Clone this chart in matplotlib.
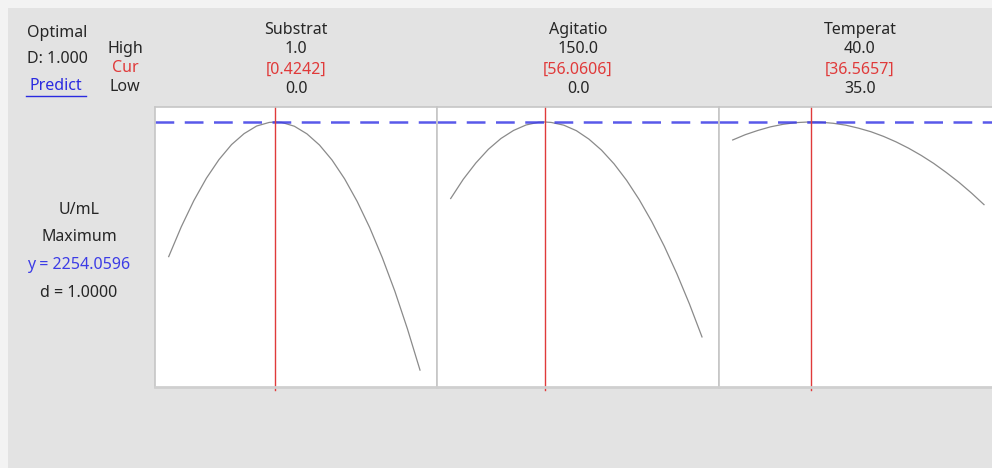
import numpy as np
import matplotlib
matplotlib.use('Agg')
import matplotlib.pyplot as plt
from matplotlib.lines import Line2D
from matplotlib.patches import Rectangle

# Factor settings (high / current / low)
factors = ['Substrat', 'Agitatio', 'Temperat']
highs = [1.0, 150.0, 40.0]
lows = [0.0, 0.0, 35.0]
currents = [0.4242, 56.0606, 36.5657]

# Predicted response (U/mL) along each factor, the other factors held at current
substrat_x = [0.0, 0.05, 0.1, 0.15, 0.2, 0.25, 0.3, 0.35, 0.4, 0.4242, 0.45, 0.5,
	0.55, 0.6, 0.65, 0.7, 0.75, 0.8, 0.85, 0.9, 0.95, 1.0]
substrat_y = [1617, 1758, 1882, 1988, 2076, 2147, 2199, 2235, 2252, 2254.06, 2252, 2234,
	2198, 2145, 2074, 1985, 1878, 1754, 1612, 1453, 1275, 1080]

agitatio_x = [0, 7.5, 15, 22.5, 30, 37.5, 45, 52.5, 56.0606, 60, 67.5, 75,
	82.5, 90, 97.5, 105, 112.5, 120, 127.5, 135, 142.5, 150]
agitatio_y = [1892, 1983, 2060, 2125, 2176, 2214, 2240, 2253, 2254.06, 2252, 2239, 2213,
	2173, 2121, 2056, 1978, 1887, 1783, 1666, 1536, 1393, 1237]

temperat_x = [35.0, 35.25, 35.5, 35.75, 36.0, 36.25, 36.5, 36.5657, 36.75, 37.0, 37.25,
	37.5, 37.75, 38.0, 38.25, 38.5, 38.75, 39.0, 39.25, 39.5, 39.75, 40.0]
temperat_y = [2169, 2194, 2214, 2231, 2243, 2251, 2254, 2254.06, 2253, 2248, 2239,
	2225, 2208, 2186, 2160, 2130, 2096, 2058, 2015, 1969, 1918, 1863]

y_opt = 2254.0596
d_value = 1.0

curves = [(substrat_x, substrat_y), (agitatio_x, agitatio_y), (temperat_x, temperat_y)]

W, H = 992, 468
plt.rcParams['font.family'] = ['Noto Sans', 'DejaVu Sans']
fig = plt.figure(figsize=(W / 100, H / 100), dpi=100, facecolor='#f3f3f3')

def fx(px):
	return px / W

def fy(py):
	return 1 - py / H

# grey window background, kept under the panels
fig.patches.append(Rectangle((fx(8), 0), 1, fy(8), transform=fig.transFigure,
	facecolor='#e3e3e3', edgecolor='none', zorder=-5))

text_col = '#262626'
red = '#e03a3a'
blue = '#3c3ce6'
fs = 11.5

# left header block
fig.text(fx(57), fy(33), 'Optimal', ha='center', va='center', fontsize=fs, color=text_col)
fig.text(fx(57), fy(59), 'D: 1.000', ha='center', va='center', fontsize=fs, color=text_col)
fig.text(fx(56), fy(86), 'Predict', ha='center', va='center', fontsize=fs, color='#2b2be0')
fig.add_artist(Line2D([fx(26), fx(86)], [fy(96), fy(96)], transform=fig.transFigure,
	color='#2b2be0', lw=1))
fig.text(fx(125), fy(49), 'High', ha='center', va='center', fontsize=fs, color=text_col)
fig.text(fx(125), fy(68), 'Cur', ha='center', va='center', fontsize=fs, color=red)
fig.text(fx(125), fy(87), 'Low', ha='center', va='center', fontsize=fs, color=text_col)

# response block
fig.text(fx(79), fy(210), 'U/mL', ha='center', va='center', fontsize=fs, color=text_col)
fig.text(fx(79), fy(237), 'Maximum', ha='center', va='center', fontsize=fs, color=text_col)
fig.text(fx(79), fy(265), 'y = %.4f' % y_opt, ha='center', va='center', fontsize=fs, color=blue)
fig.text(fx(79), fy(293), 'd = %.4f' % d_value, ha='center', va='center', fontsize=fs, color=text_col)

# panels
panel_w = 282
left0 = 155
top, bottom = 107, 387
span = 251.3   # pixels between low and high inside a panel
for i, name in enumerate(factors):
	left = left0 + i * panel_w
	ax = fig.add_axes([fx(left), fy(bottom), fx(panel_w), (bottom - top) / H])
	ax.set_zorder(2)
	ax.set_facecolor('white')
	lo, hi = lows[i], highs[i]
	unit = (hi - lo) / span
	ax.set_xlim(lo - 13.7 * unit, hi + 17.0 * unit)
	ax.set_ylim(1000, 2325)
	xs, ys = curves[i]
	ax.plot(xs, ys, color='#8a8a8a', lw=0.9)
	ax.axhline(y_opt, color=blue, lw=1.8, dashes=(7.5, 4.2), alpha=0.85)
	ax.axvline(currents[i], ymin=-0.012, ymax=1, color=red, lw=1, clip_on=False)
	ax.set_xticks([])
	ax.set_yticks([])
	for s in ax.spines.values():
		s.set_color('#c6c6c6')
		s.set_linewidth(1.2)
	ax.spines['bottom'].set_linewidth(2)
	ax.spines['bottom'].set_color('#cfcfcf')

	cx = left + panel_w / 2
	fig.text(fx(cx), fy(30), name, ha='center', va='center', fontsize=fs, color=text_col)
	fig.text(fx(cx), fy(49), '%.1f' % hi, ha='center', va='center', fontsize=fs, color=text_col)
	fig.text(fx(cx), fy(70), '[%.4f]' % currents[i], ha='center', va='center', fontsize=fs, color=red)
	fig.text(fx(cx), fy(89), '%.1f' % lo, ha='center', va='center', fontsize=fs, color=text_col)

fig.savefig('out.png', dpi=100, facecolor=fig.get_facecolor())
